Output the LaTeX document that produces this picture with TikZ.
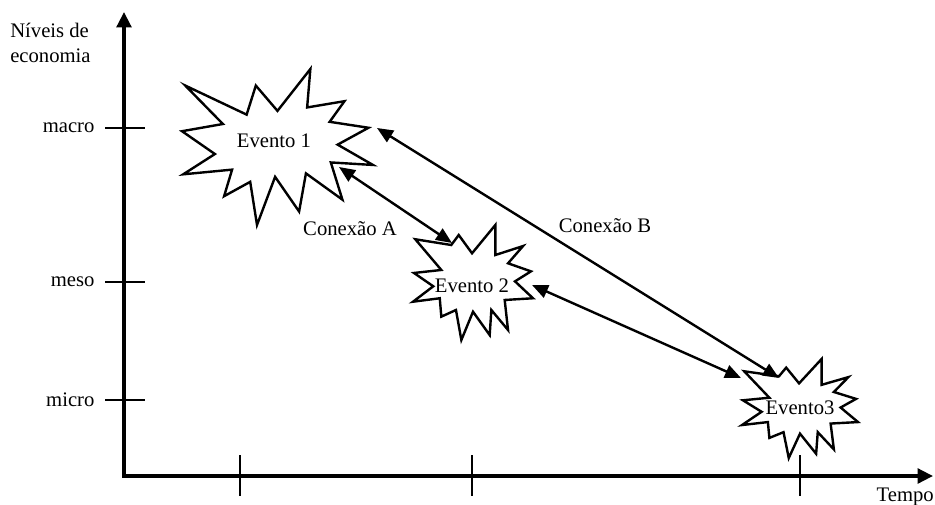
\documentclass[tikz,border=0pt]{standalone}
\usepackage{fontspec}
\setmainfont{Liberation Serif}
\usepackage{tikz}
\usetikzlibrary{
	arrows.meta,
	calc,
	positioning
}

% explosão pequena (caixa 100 x 100)
\newcommand{\explosao}[1]{%
	\draw[estrela,#1] (1.9,12.4) -- (31.9,17.4) -- (38.1,8.7) -- (49.2,24.6) -- (68.6,0)
		-- (68.6,26.1) -- (91.7,18.3) -- (79.2,33.3) -- (98.3,40.3) -- (85,49)
		-- (100,63.7) -- (76.4,65.2) -- (79.2,91.3) -- (65.3,73.9) -- (63.9,95.7)
		-- (50,75.4) -- (40.3,100) -- (35.8,73.9) -- (23.6,79.7) -- (22.3,63.7)
		-- (0,66.7) -- (16.9,53.3) -- (0.8,41.7) -- (23.6,39.1) -- cycle;}

\begin{document}
\begin{tikzpicture}[x=0.75pt, y=-0.75pt,
		font=\fontsize{15.5}{18.75}\selectfont,
		eixo/.style={line width=2.5pt, {Triangle[length=11.5pt,width=11pt]}-{Triangle[length=11.5pt,width=11pt]}},
		marca/.style={line width=1.2pt},
		seta/.style={line width=1.8pt, {Triangle[length=12pt,width=10pt]}-{Triangle[length=12pt,width=10pt]}},
		estrela/.style={line width=1.8pt, line join=miter}]
		\useasboundingbox (0,0) rectangle (935,504);
		
		% eixos
		\coordinate (topo) at (124,12);
		\coordinate (O) at (124,476);
		\coordinate (fim) at (933,476);
		\draw[eixo] (topo) -- (O) -- (fim);
		\node[anchor=north west, align=left, inner sep=0] (niveis) at (10,23) {Níveis de\\economia};
		\node[anchor=base east, inner sep=0] (tempo) at (934,501) {Tempo};
		
		% marcas no eixo vertical
		\foreach \y/\nome in {128/macro, 282/meso, 400/micro}
			\draw[marca] (105,\y) -- (145,\y) node[pos=0, left, xshift=-4pt] (\nome) {\nome};
		% marcas no eixo do tempo
		\foreach \x in {240,472,800}
			\draw[marca] (\x,455) -- (\x,496);
		
		% eventos
		\draw[estrela, shift={(182,69)}, xscale=0.884, yscale=0.722]
			(108,58) -- (145.22,0) -- (141.55,53.25) -- (183.8,44.57) -- (167.02,73.15)
			-- (210.97,81.37) -- (176.07,104.75) -- (216,132.9) -- (168.37,129.42)
			-- (181.45,180.95) -- (140.2,144.57) -- (132.47,197.37) -- (105.32,149.35)
			-- (84.85,216) -- (77.15,156.27) -- (47.62,176.17) -- (56.67,139.37)
			-- (1.35,145.87) -- (37.22,117.75) -- (0,86.15) -- (46.27,76.17)
			-- (3.7,22.95) -- (73.12,63.2) -- (83.52,22.95) -- cycle;
		\explosao{shift={(413,225)}, xscale=1.2, yscale=1.15}
		\explosao{shift={(742,359)}, xscale=1.16, yscale=0.99}
		
		\node (ev1) at (274,141) {Evento 1};
		\node (ev2) at (472,286) {Evento 2};
		\node (ev3) at (800,408) {Evento3};
		
		% conexões
		\coordinate (a1) at (339,167);
		\coordinate (a2) at (452,243);
		\coordinate (b1) at (377,128);
		\coordinate (b2) at (779,378);
		\coordinate (c1) at (532,285);
		\coordinate (c2) at (741,378);
		
		\draw[seta] (a1) -- (a2);
		\draw[seta] (b1) -- (b2);
		\draw[seta] (c1) -- (c2);
		
		\node (conA) at (350,229) {Conexão A};
		\node (conB) at (605,226) {Conexão B};
	\end{tikzpicture}
\end{document}
